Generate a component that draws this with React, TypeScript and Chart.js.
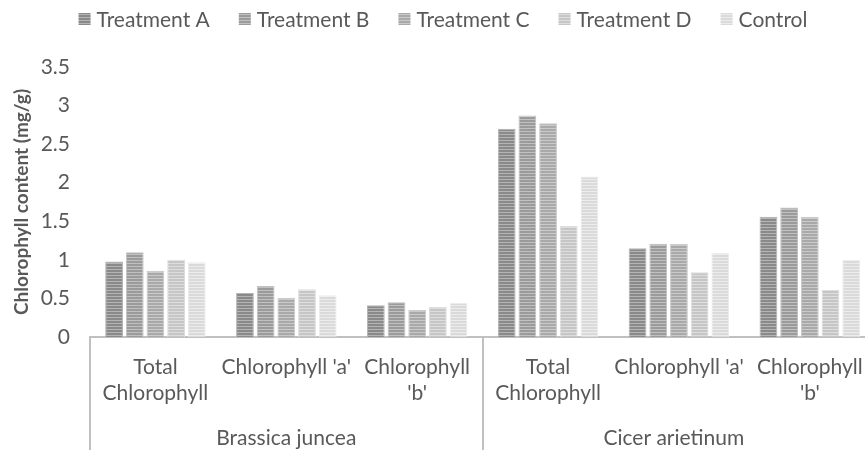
import React, { useEffect, useRef } from "react";
import { Chart, registerables } from "chart.js";

Chart.register(...registerables);

const categories: string[][] = [
  ["Total", "Chlorophyll"],
  ["Chlorophyll 'a'"],
  ["Chlorophyll", "'b'"],
  ["Total", "Chlorophyll"],
  ["Chlorophyll 'a'"],
  ["Chlorophyll", "'b'"],
];
const groups = ["Brassica juncea", "Cicer arietinum"];
const seriesNames = ["Treatment A", "Treatment B", "Treatment C", "Treatment D", "Control"];
const treatmentA = [0.98, 0.57, 0.41, 2.7, 1.15, 1.56];
const treatmentB = [1.1, 0.66, 0.45, 2.87, 1.21, 1.68];
const treatmentC = [0.86, 0.51, 0.35, 2.77, 1.21, 1.56];
const treatmentD = [1.0, 0.62, 0.39, 1.44, 0.84, 0.61];
const control = [0.97, 0.54, 0.44, 2.08, 1.09, 1.0];
const yTicks = [0, 0.5, 1, 1.5, 2, 2.5, 3, 3.5];

const baseColors = ["#8a8a8a", "#9b9b9b", "#a9a9a9", "#c6c6c6", "#dadada"];
const stripeColors = ["#b4b4b4", "#c0c0c0", "#cacaca", "#dddddd", "#ececec"];

function makePattern(base: string, stripe: string): CanvasPattern | string {
  const c = document.createElement("canvas");
  c.width = 4;
  c.height = 3;
  const g = c.getContext("2d");
  if (!g) return base;
  g.fillStyle = base;
  g.fillRect(0, 0, 4, 3);
  g.fillStyle = stripe;
  g.fillRect(0, 2, 4, 1);
  const p = g.createPattern(c, "repeat");
  return p || base;
}

const FONT = "Lato, 'Noto Sans', sans-serif";
const FS = 21;
const TEXT = "#595959";
const LINE = "#c0c0c0";

const groupPlugin = {
  id: "groupPlugin",
  afterDraw(chart: any) {
    const ctx = chart.ctx;
    const x = chart.scales.x;
    const n = categories.length;
    const half = n / groups.length;
    const step = (x.right - x.left) / n;
    const top = x.top;
    const bottom = chart.height;
    ctx.save();
    // separators
    ctx.strokeStyle = LINE;
    ctx.lineWidth = 2;
    for (let g = 0; g <= groups.length; g++) {
      const px = Math.round(x.left + g * half * step);
      ctx.beginPath();
      ctx.moveTo(px, top);
      ctx.lineTo(px, bottom);
      ctx.stroke();
    }
    // group labels
    ctx.fillStyle = TEXT;
    ctx.font = `${FS}px ${FONT}`;
    ctx.textAlign = "center";
    ctx.textBaseline = "middle";
    const visibleRight = Math.min(x.right, 865);
    for (let g = 0; g < groups.length; g++) {
      const l = x.left + g * half * step;
      const r = Math.min(l + half * step, visibleRight);
      ctx.fillText(groups[g], (l + r) / 2, 438);
    }
    // legend
    const box = 12;
    const gap = 6;
    const itemGap = 29;
    const widths = seriesNames.map((s) => ctx.measureText(s).width);
    const total = widths.reduce((a, w) => a + box + gap + w, 0) + itemGap * (seriesNames.length - 1);
    let cx = chart.width / 2 + 3 - total / 2;
    const cy = 19;
    ctx.textAlign = "left";
    chart.data.datasets.forEach((ds: any, i: number) => {
      ctx.fillStyle = ds.backgroundColor;
      ctx.fillRect(cx, cy - box / 2, box, box);
      ctx.fillStyle = TEXT;
      ctx.fillText(seriesNames[i], cx + box + gap, cy + 1);
      cx += box + gap + widths[i] + itemGap;
    });
    ctx.restore();
  },
};

export default function App() {
  const ref = useRef<HTMLCanvasElement | null>(null);
  useEffect(() => {
    if (!ref.current) return;
    const series = [treatmentA, treatmentB, treatmentC, treatmentD, control];
    const chart = new Chart(ref.current, {
      type: "bar",
      data: {
        labels: categories,
        datasets: series.map((d, i) => ({
          label: seriesNames[i],
          data: d,
          backgroundColor: makePattern(baseColors[i], stripeColors[i]) as any,
          borderColor: stripeColors[i],
          borderWidth: 1,
          categoryPercentage: 0.79,
          barPercentage: 0.86,
        })),
      },
      options: {
        animation: false,
        responsive: false,
        maintainAspectRatio: false,
        layout: { padding: { left: 0, right: 4, top: 67, bottom: 0 } },
        plugins: {
          legend: { display: false },
          tooltip: { enabled: false },
        },
        scales: {
          x: {
            grid: { display: false, drawTicks: false },
            border: { display: true, color: LINE, width: 2 },
            ticks: {
              color: TEXT,
              font: { family: FONT, size: FS, lineHeight: 1.25 },
              padding: 17,
              maxRotation: 0,
              autoSkip: false,
            },
            afterFit(scale: any) {
              scale.height = 113;
            },
          },
          y: {
            min: 0,
            max: 3.5,
            afterBuildTicks(scale: any) {
              scale.ticks = yTicks.map((v) => ({ value: v }));
            },
            grid: { display: false, drawTicks: false },
            border: { display: false },
            ticks: {
              color: TEXT,
              font: { family: FONT, size: FS },
              padding: 20,
              callback: (v: any) => String(v),
            },
            title: {
              display: true,
              text: "Chlorophyll content (mg/g)",
              color: TEXT,
              font: { family: FONT, size: 19, weight: "bold" },
              padding: { top: 10, bottom: 0 },
            },
            afterFit(scale: any) {
              scale.width = 90;
            },
          },
        },
      },
      plugins: [groupPlugin],
    } as any);
    return () => chart.destroy();
  }, []);
  return (
    <div style={{ position: "fixed", left: 0, top: 0, width: 880, height: 450, background: "#fff" }}>
      <canvas ref={ref} width={880} height={450} style={{ width: 880, height: 450 }} />
    </div>
  );
}
